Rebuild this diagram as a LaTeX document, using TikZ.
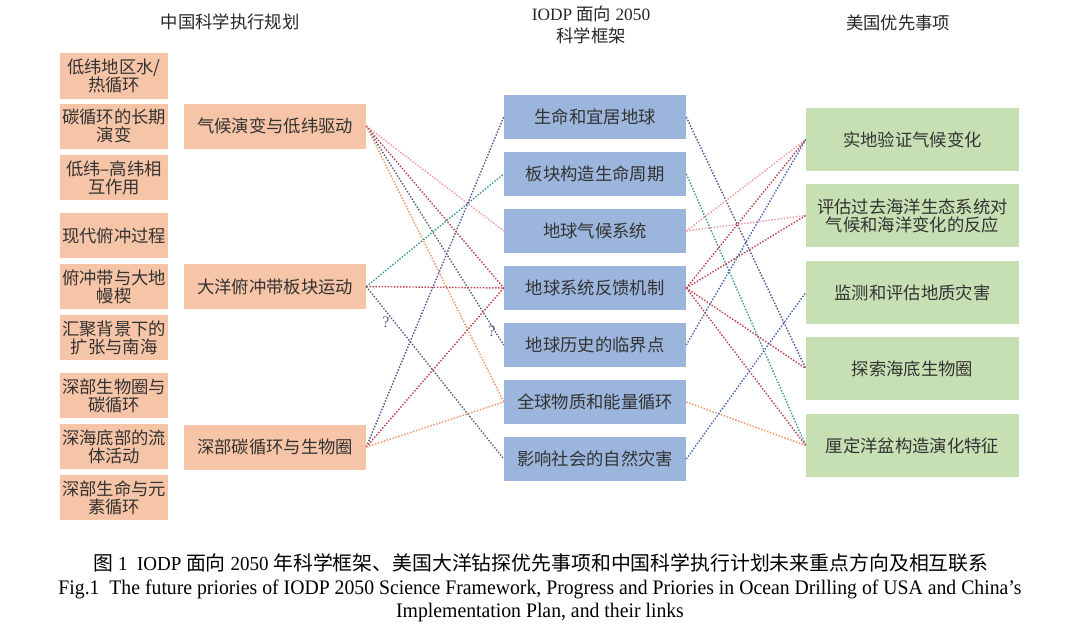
\documentclass[tikz,border=0pt]{standalone}
\usepackage{fontspec}
\setmainfont{Liberation Serif}
\newfontfamily\cjk{Noto Sans CJK SC}
\newfontfamily\capfont{Liberation Serif}[FakeStretch=0.955]
\definecolor{peach}{HTML}{F6C4A6}
\definecolor{bluebox}{HTML}{9BB5DC}
\definecolor{greenbox}{HTML}{C6E0B4}
\definecolor{txt}{HTML}{333333}
\definecolor{lpink}{HTML}{F09A9E}
\definecolor{lred}{HTML}{C0404E}
\definecolor{lpurple}{HTML}{55509A}
\definecolor{lblue}{HTML}{4868B4}
\definecolor{lgray}{HTML}{56627F}
\definecolor{lteal}{HTML}{3F9893}
\definecolor{lorange}{HTML}{F29462}
\begin{document}
\begin{tikzpicture}[x=0.75pt,y=-0.75pt,
  box/.style={draw=none, inner sep=0pt, align=center, text=txt, font=\cjk\fontsize{13}{13.5}\selectfont},
  lbox/.style={box, fill=peach, minimum width=81pt, minimum height=33.75pt},
  lmbox/.style={box, fill=peach, minimum width=136.5pt, minimum height=33.75pt},
  mbox/.style={box, fill=bluebox, minimum width=136.5pt, minimum height=33pt},
  rbox/.style={box, fill=greenbox, minimum width=159.75pt, minimum height=47.25pt},
  head/.style={inner sep=0pt, align=center, text=black!85, font=\fontsize{13}{16.5}\selectfont},
  captext/.style={inner sep=0pt, align=center, text=black, font=\capfont\fontsize{15.5}{18}\selectfont},
  link/.style={line width=1.05pt, dash pattern=on 1.1pt off 1.2pt},
  qm/.style={inner sep=0pt, text=lgray, font=\fontsize{12}{12}\selectfont}]
\useasboundingbox (0,0) rectangle (1080,635);
% headers
\node[head] (h1) at (230,22) {\cjk 中国科学执行规划};
\node[head] (h2) at (591,25) {IODP {\cjk 面向} 2050\\{\cjk 科学框架}};
\node[head] (h3) at (898,23) {\cjk 美国优先事项};
% left column
\node[lbox] (l1) at (114,76) {低纬地区水/\\热循环};
\node[lbox] (l2) at (114,126) {碳循环的长期\\演变};
\node[lbox] (l3) at (114,177.5) {低纬–高纬相\\互作用};
\node[lbox] (l4) at (114,235.5) {现代俯冲过程};
\node[lbox] (l5) at (114,286.5) {俯冲带与大地\\幔楔};
\node[lbox] (l6) at (114,337.5) {汇聚背景下的\\扩张与南海};
\node[lbox] (l7) at (114,395.5) {深部生物圈与\\碳循环};
\node[lbox] (l8) at (114,446.5) {深海底部的流\\体活动};
\node[lbox] (l9) at (114,497.5) {深部生命与元\\素循环};
% left-middle column
\node[lmbox] (A) at (275,126) {气候演变与低纬驱动};
\node[lmbox] (B) at (275,286.5) {大洋俯冲带板块运动};
\node[lmbox] (C) at (275,447) {深部碳循环与生物圈};
% middle column
\node[mbox] (m1) at (595,117) {生命和宜居地球};
\node[mbox] (m2) at (595,174) {板块构造生命周期};
\node[mbox] (m3) at (595,231) {地球气候系统};
\node[mbox] (m4) at (595,288) {地球系统反馈机制};
\node[mbox] (m5) at (595,345) {地球历史的临界点};
\node[mbox] (m6) at (595,402) {全球物质和能量循环};
\node[mbox] (m7) at (595,459) {影响社会的自然灾害};
% right column
\node[rbox] (r1) at (912.5,139.5) {实地验证气候变化};
\node[rbox] (r2) at (912.5,215.5) {评估过去海洋生态系统对\\气候和海洋变化的反应};
\node[rbox] (r3) at (912.5,292.5) {监测和评估地质灾害};
\node[rbox] (r4) at (912.5,368.5) {探索海底生物圈};
\node[rbox] (r5) at (912.5,445.5) {厘定洋盆构造演化特征};
% links left-middle -> middle
\draw[link, lpink] (A.east) -- (m3.west);
\draw[link, lred] (A.east) -- (m4.west);
\draw[link, lgray] (A.east) -- (m5.west);
\draw[link, lorange] (A.east) -- (m6.west);
\draw[link, lteal] (B.east) -- (m2.west);
\draw[link, lred] (B.east) -- (m4.west);
\draw[link, lgray] (B.east) -- (m7.west);
\draw[link, lpurple] (C.east) -- (m1.west);
\draw[link, lred] (C.east) -- (m4.west);
\draw[link, lorange] (C.east) -- (m6.west);
% links middle -> right
\draw[link, lpurple] (m1.east) -- (r4.west);
\draw[link, lteal] (m2.east) -- (r5.west);
\draw[link, lpink] (m3.east) -- (r1.west);
\draw[link, lpink] (m3.east) -- (r2.west);
\draw[link, lred] (m4.east) -- (r1.west);
\draw[link, lred] (m4.east) -- (r2.west);
\draw[link, lred] (m4.east) -- (r4.west);
\draw[link, lred] (m4.east) -- (r5.west);
\draw[link, lblue] (m5.east) -- (r1.west);
\draw[link, lorange] (m6.east) -- (r5.west);
\draw[link, lblue] (m7.east) -- (r3.west);
% question marks
\node[qm] (q1) at (386,322) {?};
\node[qm] (q2) at (492,331) {?};
% caption
\node[captext, font=\capfont\fontsize{14.9}{18}\selectfont] (c1) at (541,563) {{\cjk 图} 1\ \ IODP {\cjk 面向} 2050 {\cjk 年科学框架、美国大洋钻探优先事项和中国科学执行计划未来重点方向及相互联系}};
\node[captext] (c2) at (540,589) {Fig.1\ \ The future priories of IODP 2050 Science Framework, Progress and Priories in Ocean Drilling of USA and China’s};
\node[captext] (c3) at (540,613) {Implementation Plan, and their links};
\end{tikzpicture}
\end{document}
